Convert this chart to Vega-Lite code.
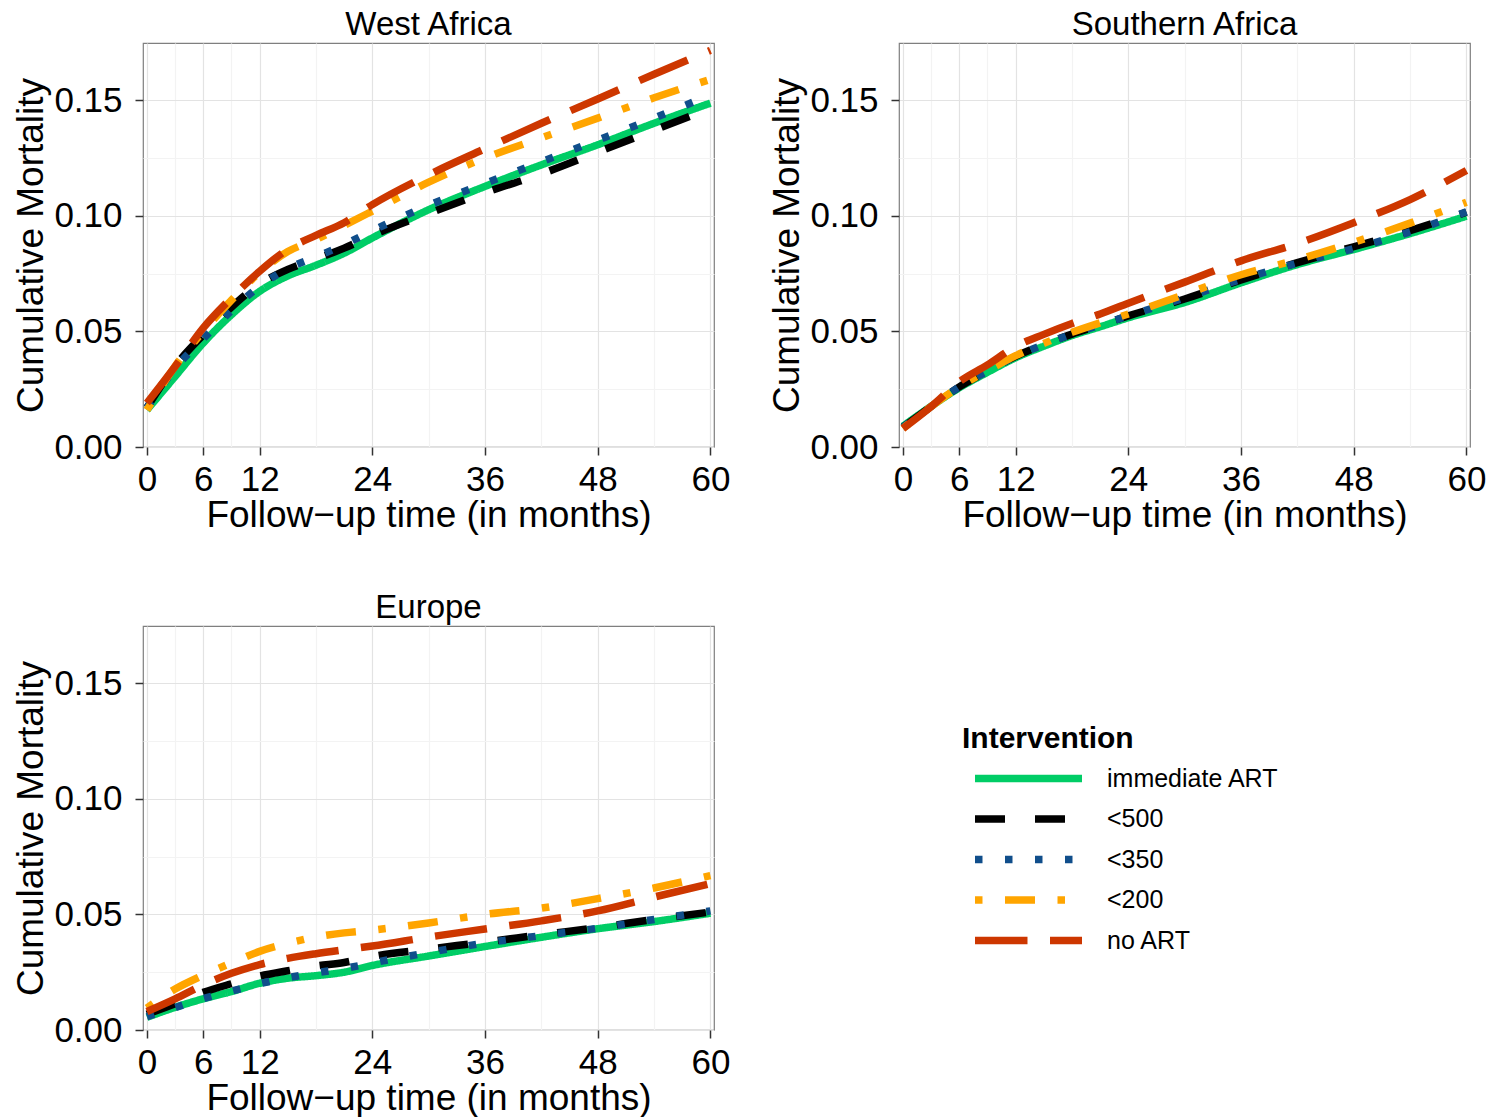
{
  "$schema": "https://vega.github.io/schema/vega-lite/v6.json",
  "background": "white",
  "padding": {"left": 12, "top": 8, "right": 10, "bottom": 0},
  "config": {
    "font": "Liberation Sans",
    "view": {"stroke": "#7F7F7F", "strokeWidth": 1.2},
    "axis": {
      "domain": false,
      "tickColor": "#333333",
      "tickSize": 8,
      "tickWidth": 1.5,
      "labelFontSize": 35,
      "labelColor": "black",
      "titleFontSize": 37,
      "titleFontWeight": "normal",
      "titleColor": "black",
      "labelFlush": false,
      "labelOverlap": false,
      "labelBound": false,
      "gridWidth": 1.2
    },
    "axisX": {"labelPadding": 7, "titlePadding": 0},
    "axisY": {"labelPadding": 13, "titlePadding": 3},
    "title": {"fontSize": 33, "fontWeight": "normal", "color": "black", "anchor": "middle", "frame": "group"},
    "legend": {
      "titleFontSize": 30,
      "titleFontWeight": "bold",
      "titleColor": "black",
      "labelFontSize": 25,
      "labelColor": "black",
      "labelLimit": 400,
      "symbolType": "stroke",
      "symbolSize": 11449,
      "symbolStrokeWidth": 7.5,
      "symbolOffset": 9,
      "labelOffset": 21,
      "clipHeight": 27,
      "rowPadding": 13.5,
      "titlePadding": 11
    }
  },
  "data": {"values": [
    {"region":"West Africa","intervention":"immediate ART","month":0,"mortality":0.016},
    {"region":"West Africa","intervention":"immediate ART","month":3,"mortality":0.0305},
    {"region":"West Africa","intervention":"immediate ART","month":6,"mortality":0.045},
    {"region":"West Africa","intervention":"immediate ART","month":9,"mortality":0.0572},
    {"region":"West Africa","intervention":"immediate ART","month":12,"mortality":0.0673},
    {"region":"West Africa","intervention":"immediate ART","month":15,"mortality":0.0740},
    {"region":"West Africa","intervention":"immediate ART","month":18,"mortality":0.0786},
    {"region":"West Africa","intervention":"immediate ART","month":21,"mortality":0.0838},
    {"region":"West Africa","intervention":"immediate ART","month":24,"mortality":0.0904},
    {"region":"West Africa","intervention":"immediate ART","month":30,"mortality":0.1026},
    {"region":"West Africa","intervention":"immediate ART","month":36,"mortality":0.1127},
    {"region":"West Africa","intervention":"immediate ART","month":42,"mortality":0.122},
    {"region":"West Africa","intervention":"immediate ART","month":48,"mortality":0.1307},
    {"region":"West Africa","intervention":"immediate ART","month":54,"mortality":0.140},
    {"region":"West Africa","intervention":"immediate ART","month":60,"mortality":0.1487},
    {"region":"West Africa","intervention":"<500","month":0,"mortality":0.017},
    {"region":"West Africa","intervention":"<500","month":3,"mortality":0.035},
    {"region":"West Africa","intervention":"<500","month":6,"mortality":0.0485},
    {"region":"West Africa","intervention":"<500","month":9,"mortality":0.0605},
    {"region":"West Africa","intervention":"<500","month":12,"mortality":0.0705},
    {"region":"West Africa","intervention":"<500","month":15,"mortality":0.0768},
    {"region":"West Africa","intervention":"<500","month":18,"mortality":0.0813},
    {"region":"West Africa","intervention":"<500","month":21,"mortality":0.086},
    {"region":"West Africa","intervention":"<500","month":24,"mortality":0.0915},
    {"region":"West Africa","intervention":"<500","month":30,"mortality":0.101},
    {"region":"West Africa","intervention":"<500","month":36,"mortality":0.110},
    {"region":"West Africa","intervention":"<500","month":42,"mortality":0.1181},
    {"region":"West Africa","intervention":"<500","month":48,"mortality":0.1275},
    {"region":"West Africa","intervention":"<500","month":54,"mortality":0.137},
    {"region":"West Africa","intervention":"<500","month":60,"mortality":0.1465},
    {"region":"West Africa","intervention":"<350","month":0,"mortality":0.017},
    {"region":"West Africa","intervention":"<350","month":3,"mortality":0.034},
    {"region":"West Africa","intervention":"<350","month":6,"mortality":0.0468},
    {"region":"West Africa","intervention":"<350","month":9,"mortality":0.059},
    {"region":"West Africa","intervention":"<350","month":12,"mortality":0.0695},
    {"region":"West Africa","intervention":"<350","month":15,"mortality":0.0772},
    {"region":"West Africa","intervention":"<350","month":18,"mortality":0.0822},
    {"region":"West Africa","intervention":"<350","month":21,"mortality":0.0875},
    {"region":"West Africa","intervention":"<350","month":24,"mortality":0.0935},
    {"region":"West Africa","intervention":"<350","month":30,"mortality":0.1045},
    {"region":"West Africa","intervention":"<350","month":36,"mortality":0.114},
    {"region":"West Africa","intervention":"<350","month":42,"mortality":0.1233},
    {"region":"West Africa","intervention":"<350","month":48,"mortality":0.1327},
    {"region":"West Africa","intervention":"<350","month":54,"mortality":0.1422},
    {"region":"West Africa","intervention":"<350","month":60,"mortality":0.1523},
    {"region":"West Africa","intervention":"<200","month":0,"mortality":0.016},
    {"region":"West Africa","intervention":"<200","month":3,"mortality":0.035},
    {"region":"West Africa","intervention":"<200","month":6,"mortality":0.050},
    {"region":"West Africa","intervention":"<200","month":9,"mortality":0.0635},
    {"region":"West Africa","intervention":"<200","month":12,"mortality":0.0755},
    {"region":"West Africa","intervention":"<200","month":15,"mortality":0.0845},
    {"region":"West Africa","intervention":"<200","month":18,"mortality":0.0897},
    {"region":"West Africa","intervention":"<200","month":21,"mortality":0.0958},
    {"region":"West Africa","intervention":"<200","month":24,"mortality":0.102},
    {"region":"West Africa","intervention":"<200","month":30,"mortality":0.1145},
    {"region":"West Africa","intervention":"<200","month":36,"mortality":0.125},
    {"region":"West Africa","intervention":"<200","month":42,"mortality":0.1337},
    {"region":"West Africa","intervention":"<200","month":48,"mortality":0.1422},
    {"region":"West Africa","intervention":"<200","month":54,"mortality":0.151},
    {"region":"West Africa","intervention":"<200","month":60,"mortality":0.159},
    {"region":"West Africa","intervention":"no ART","month":0,"mortality":0.019},
    {"region":"West Africa","intervention":"no ART","month":3,"mortality":0.0348},
    {"region":"West Africa","intervention":"no ART","month":6,"mortality":0.0515},
    {"region":"West Africa","intervention":"no ART","month":9,"mortality":0.0645},
    {"region":"West Africa","intervention":"no ART","month":12,"mortality":0.076},
    {"region":"West Africa","intervention":"no ART","month":15,"mortality":0.0855},
    {"region":"West Africa","intervention":"no ART","month":18,"mortality":0.0915},
    {"region":"West Africa","intervention":"no ART","month":21,"mortality":0.097},
    {"region":"West Africa","intervention":"no ART","month":24,"mortality":0.1048},
    {"region":"West Africa","intervention":"no ART","month":30,"mortality":0.1177},
    {"region":"West Africa","intervention":"no ART","month":36,"mortality":0.129},
    {"region":"West Africa","intervention":"no ART","month":42,"mortality":0.140},
    {"region":"West Africa","intervention":"no ART","month":48,"mortality":0.1505},
    {"region":"West Africa","intervention":"no ART","month":54,"mortality":0.1612},
    {"region":"West Africa","intervention":"no ART","month":60,"mortality":0.1715},

    {"region":"Southern Africa","intervention":"immediate ART","month":0,"mortality":0.009},
    {"region":"Southern Africa","intervention":"immediate ART","month":3,"mortality":0.0176},
    {"region":"Southern Africa","intervention":"immediate ART","month":6,"mortality":0.0256},
    {"region":"Southern Africa","intervention":"immediate ART","month":9,"mortality":0.0323},
    {"region":"Southern Africa","intervention":"immediate ART","month":12,"mortality":0.0386},
    {"region":"Southern Africa","intervention":"immediate ART","month":15,"mortality":0.0436},
    {"region":"Southern Africa","intervention":"immediate ART","month":18,"mortality":0.0482},
    {"region":"Southern Africa","intervention":"immediate ART","month":21,"mortality":0.052},
    {"region":"Southern Africa","intervention":"immediate ART","month":24,"mortality":0.0559},
    {"region":"Southern Africa","intervention":"immediate ART","month":30,"mortality":0.0625},
    {"region":"Southern Africa","intervention":"immediate ART","month":36,"mortality":0.071},
    {"region":"Southern Africa","intervention":"immediate ART","month":42,"mortality":0.0789},
    {"region":"Southern Africa","intervention":"immediate ART","month":48,"mortality":0.0854},
    {"region":"Southern Africa","intervention":"immediate ART","month":54,"mortality":0.0923},
    {"region":"Southern Africa","intervention":"immediate ART","month":60,"mortality":0.0998},
    {"region":"Southern Africa","intervention":"<500","month":0,"mortality":0.0085},
    {"region":"Southern Africa","intervention":"<500","month":3,"mortality":0.0175},
    {"region":"Southern Africa","intervention":"<500","month":6,"mortality":0.026},
    {"region":"Southern Africa","intervention":"<500","month":9,"mortality":0.0328},
    {"region":"Southern Africa","intervention":"<500","month":12,"mortality":0.0392},
    {"region":"Southern Africa","intervention":"<500","month":15,"mortality":0.0443},
    {"region":"Southern Africa","intervention":"<500","month":18,"mortality":0.0488},
    {"region":"Southern Africa","intervention":"<500","month":21,"mortality":0.0527},
    {"region":"Southern Africa","intervention":"<500","month":24,"mortality":0.0567},
    {"region":"Southern Africa","intervention":"<500","month":30,"mortality":0.064},
    {"region":"Southern Africa","intervention":"<500","month":36,"mortality":0.0722},
    {"region":"Southern Africa","intervention":"<500","month":42,"mortality":0.0797},
    {"region":"Southern Africa","intervention":"<500","month":48,"mortality":0.0866},
    {"region":"Southern Africa","intervention":"<500","month":54,"mortality":0.0936},
    {"region":"Southern Africa","intervention":"<500","month":60,"mortality":0.1015},
    {"region":"Southern Africa","intervention":"<350","month":0,"mortality":0.0085},
    {"region":"Southern Africa","intervention":"<350","month":3,"mortality":0.0175},
    {"region":"Southern Africa","intervention":"<350","month":6,"mortality":0.026},
    {"region":"Southern Africa","intervention":"<350","month":9,"mortality":0.0328},
    {"region":"Southern Africa","intervention":"<350","month":12,"mortality":0.0392},
    {"region":"Southern Africa","intervention":"<350","month":15,"mortality":0.0443},
    {"region":"Southern Africa","intervention":"<350","month":18,"mortality":0.0488},
    {"region":"Southern Africa","intervention":"<350","month":21,"mortality":0.0527},
    {"region":"Southern Africa","intervention":"<350","month":24,"mortality":0.0567},
    {"region":"Southern Africa","intervention":"<350","month":30,"mortality":0.0645},
    {"region":"Southern Africa","intervention":"<350","month":36,"mortality":0.0725},
    {"region":"Southern Africa","intervention":"<350","month":42,"mortality":0.0795},
    {"region":"Southern Africa","intervention":"<350","month":48,"mortality":0.0858},
    {"region":"Southern Africa","intervention":"<350","month":54,"mortality":0.093},
    {"region":"Southern Africa","intervention":"<350","month":60,"mortality":0.1017},
    {"region":"Southern Africa","intervention":"<200","month":0,"mortality":0.008},
    {"region":"Southern Africa","intervention":"<200","month":3,"mortality":0.0175},
    {"region":"Southern Africa","intervention":"<200","month":6,"mortality":0.026},
    {"region":"Southern Africa","intervention":"<200","month":9,"mortality":0.033},
    {"region":"Southern Africa","intervention":"<200","month":12,"mortality":0.0395},
    {"region":"Southern Africa","intervention":"<200","month":15,"mortality":0.0448},
    {"region":"Southern Africa","intervention":"<200","month":18,"mortality":0.0496},
    {"region":"Southern Africa","intervention":"<200","month":21,"mortality":0.0537},
    {"region":"Southern Africa","intervention":"<200","month":24,"mortality":0.0575},
    {"region":"Southern Africa","intervention":"<200","month":30,"mortality":0.066},
    {"region":"Southern Africa","intervention":"<200","month":36,"mortality":0.0745},
    {"region":"Southern Africa","intervention":"<200","month":42,"mortality":0.081},
    {"region":"Southern Africa","intervention":"<200","month":48,"mortality":0.0885},
    {"region":"Southern Africa","intervention":"<200","month":54,"mortality":0.0968},
    {"region":"Southern Africa","intervention":"<200","month":60,"mortality":0.1058},
    {"region":"Southern Africa","intervention":"no ART","month":0,"mortality":0.008},
    {"region":"Southern Africa","intervention":"no ART","month":3,"mortality":0.0175},
    {"region":"Southern Africa","intervention":"no ART","month":6,"mortality":0.0282},
    {"region":"Southern Africa","intervention":"no ART","month":9,"mortality":0.0355},
    {"region":"Southern Africa","intervention":"no ART","month":12,"mortality":0.0435},
    {"region":"Southern Africa","intervention":"no ART","month":15,"mortality":0.0487},
    {"region":"Southern Africa","intervention":"no ART","month":18,"mortality":0.0534},
    {"region":"Southern Africa","intervention":"no ART","month":21,"mortality":0.0575},
    {"region":"Southern Africa","intervention":"no ART","month":24,"mortality":0.0622},
    {"region":"Southern Africa","intervention":"no ART","month":30,"mortality":0.0713},
    {"region":"Southern Africa","intervention":"no ART","month":36,"mortality":0.0805},
    {"region":"Southern Africa","intervention":"no ART","month":42,"mortality":0.088},
    {"region":"Southern Africa","intervention":"no ART","month":48,"mortality":0.097},
    {"region":"Southern Africa","intervention":"no ART","month":54,"mortality":0.107},
    {"region":"Southern Africa","intervention":"no ART","month":60,"mortality":0.1196},

    {"region":"Europe","intervention":"immediate ART","month":0,"mortality":0.0055},
    {"region":"Europe","intervention":"immediate ART","month":3,"mortality":0.0098},
    {"region":"Europe","intervention":"immediate ART","month":6,"mortality":0.0135},
    {"region":"Europe","intervention":"immediate ART","month":9,"mortality":0.0166},
    {"region":"Europe","intervention":"immediate ART","month":12,"mortality":0.0202},
    {"region":"Europe","intervention":"immediate ART","month":15,"mortality":0.0224},
    {"region":"Europe","intervention":"immediate ART","month":18,"mortality":0.0235},
    {"region":"Europe","intervention":"immediate ART","month":21,"mortality":0.025},
    {"region":"Europe","intervention":"immediate ART","month":24,"mortality":0.0279},
    {"region":"Europe","intervention":"immediate ART","month":30,"mortality":0.032},
    {"region":"Europe","intervention":"immediate ART","month":36,"mortality":0.0361},
    {"region":"Europe","intervention":"immediate ART","month":42,"mortality":0.0401},
    {"region":"Europe","intervention":"immediate ART","month":48,"mortality":0.0438},
    {"region":"Europe","intervention":"immediate ART","month":54,"mortality":0.0469},
    {"region":"Europe","intervention":"immediate ART","month":60,"mortality":0.0505},
    {"region":"Europe","intervention":"<500","month":0,"mortality":0.0068},
    {"region":"Europe","intervention":"<500","month":3,"mortality":0.0113},
    {"region":"Europe","intervention":"<500","month":6,"mortality":0.0163},
    {"region":"Europe","intervention":"<500","month":9,"mortality":0.020},
    {"region":"Europe","intervention":"<500","month":12,"mortality":0.0233},
    {"region":"Europe","intervention":"<500","month":15,"mortality":0.0256},
    {"region":"Europe","intervention":"<500","month":18,"mortality":0.0277},
    {"region":"Europe","intervention":"<500","month":21,"mortality":0.0292},
    {"region":"Europe","intervention":"<500","month":24,"mortality":0.0318},
    {"region":"Europe","intervention":"<500","month":30,"mortality":0.035},
    {"region":"Europe","intervention":"<500","month":36,"mortality":0.038},
    {"region":"Europe","intervention":"<500","month":42,"mortality":0.0412},
    {"region":"Europe","intervention":"<500","month":48,"mortality":0.0443},
    {"region":"Europe","intervention":"<500","month":54,"mortality":0.0478},
    {"region":"Europe","intervention":"<500","month":60,"mortality":0.051},
    {"region":"Europe","intervention":"<350","month":0,"mortality":0.0058},
    {"region":"Europe","intervention":"<350","month":3,"mortality":0.0097},
    {"region":"Europe","intervention":"<350","month":6,"mortality":0.0136},
    {"region":"Europe","intervention":"<350","month":9,"mortality":0.0168},
    {"region":"Europe","intervention":"<350","month":12,"mortality":0.020},
    {"region":"Europe","intervention":"<350","month":15,"mortality":0.0226},
    {"region":"Europe","intervention":"<350","month":18,"mortality":0.0247},
    {"region":"Europe","intervention":"<350","month":21,"mortality":0.0266},
    {"region":"Europe","intervention":"<350","month":24,"mortality":0.029},
    {"region":"Europe","intervention":"<350","month":30,"mortality":0.0335},
    {"region":"Europe","intervention":"<350","month":36,"mortality":0.0376},
    {"region":"Europe","intervention":"<350","month":42,"mortality":0.0408},
    {"region":"Europe","intervention":"<350","month":48,"mortality":0.044},
    {"region":"Europe","intervention":"<350","month":54,"mortality":0.0478},
    {"region":"Europe","intervention":"<350","month":60,"mortality":0.0515},
    {"region":"Europe","intervention":"<200","month":0,"mortality":0.0095},
    {"region":"Europe","intervention":"<200","month":3,"mortality":0.0177},
    {"region":"Europe","intervention":"<200","month":6,"mortality":0.0237},
    {"region":"Europe","intervention":"<200","month":9,"mortality":0.029},
    {"region":"Europe","intervention":"<200","month":12,"mortality":0.034},
    {"region":"Europe","intervention":"<200","month":15,"mortality":0.0375},
    {"region":"Europe","intervention":"<200","month":18,"mortality":0.0402},
    {"region":"Europe","intervention":"<200","month":21,"mortality":0.042},
    {"region":"Europe","intervention":"<200","month":24,"mortality":0.0432},
    {"region":"Europe","intervention":"<200","month":30,"mortality":0.0463},
    {"region":"Europe","intervention":"<200","month":36,"mortality":0.050},
    {"region":"Europe","intervention":"<200","month":42,"mortality":0.0527},
    {"region":"Europe","intervention":"<200","month":48,"mortality":0.0568},
    {"region":"Europe","intervention":"<200","month":54,"mortality":0.0614},
    {"region":"Europe","intervention":"<200","month":60,"mortality":0.0668},
    {"region":"Europe","intervention":"no ART","month":0,"mortality":0.008},
    {"region":"Europe","intervention":"no ART","month":3,"mortality":0.0135},
    {"region":"Europe","intervention":"no ART","month":6,"mortality":0.0195},
    {"region":"Europe","intervention":"no ART","month":9,"mortality":0.0245},
    {"region":"Europe","intervention":"no ART","month":12,"mortality":0.0283},
    {"region":"Europe","intervention":"no ART","month":15,"mortality":0.031},
    {"region":"Europe","intervention":"no ART","month":18,"mortality":0.033},
    {"region":"Europe","intervention":"no ART","month":21,"mortality":0.0347},
    {"region":"Europe","intervention":"no ART","month":24,"mortality":0.0363},
    {"region":"Europe","intervention":"no ART","month":30,"mortality":0.0402},
    {"region":"Europe","intervention":"no ART","month":36,"mortality":0.0437},
    {"region":"Europe","intervention":"no ART","month":42,"mortality":0.0472},
    {"region":"Europe","intervention":"no ART","month":48,"mortality":0.0515},
    {"region":"Europe","intervention":"no ART","month":54,"mortality":0.0575},
    {"region":"Europe","intervention":"no ART","month":60,"mortality":0.0633}
  ]},
  "columns": 2,
  "bounds": "flush",
  "spacing": {"row": 179, "column": 185},
  "resolve": {"scale": {"color": "shared", "strokeDash": "shared"}},
  "concat": [
    {
      "title": {"text": "West Africa", "offset": -7},
      "width": 571, "height": 404,
      "transform": [{"filter": "datum.region === 'West Africa'"}],
      "mark": {"type": "line", "strokeWidth": 7.5, "strokeCap": "butt", "interpolate": "monotone"},
      "encoding": {
        "x": {"field": "month", "type": "quantitative", "scale": {"domain": [-0.42, 60.38], "nice": false, "zero": false},
          "axis": {"title": "Follow−up time (in months)", "values": [0,3,6,9,12,18,24,30,36,42,48,54,60],
            "labelExpr": "indexof([0,6,12,24,36,48,60], datum.value) >= 0 ? datum.label : ''",
            "gridColor": {"condition": {"test": "indexof([0,6,12,24,36,48,60], datum.value) < 0", "value": "#F3F3F3"}, "value": "#E3E3E3"},
            "tickOpacity": {"condition": {"test": "indexof([0,6,12,24,36,48,60], datum.value) < 0", "value": 0}, "value": 1}}},
        "y": {"field": "mortality", "type": "quantitative", "scale": {"domain": [0, 0.1747], "nice": false},
          "axis": {"title": "Cumulative Mortality", "values": [0,0.025,0.05,0.075,0.1,0.125,0.15], "format": ".2f",
            "labelExpr": "round(datum.value*1000) % 50 == 0 ? datum.label : ''",
            "gridColor": {"condition": {"test": "round(datum.value*1000) % 50 != 0", "value": "#F3F3F3"}, "value": "#E3E3E3"},
            "tickOpacity": {"condition": {"test": "round(datum.value*1000) % 50 != 0", "value": 0}, "value": 1}}},
        "color": {"field": "intervention", "type": "nominal",
          "scale": {"domain": ["immediate ART","<500","<350","<200","no ART"], "range": ["#00CD66","#000000","#104E8B","#FFA500","#CD3700"]},
          "legend": {"title": "Intervention", "orient": "none", "legendX": 819, "legendY": 681}},
        "strokeDash": {"field": "intervention", "type": "nominal",
          "scale": {"domain": ["immediate ART","<500","<350","<200","no ART"], "range": [[1,0],[30,30],[7.5,22.5],[7.5,22.5,30,22.5],[52.5,22.5]]},
          "legend": {"title": "Intervention", "orient": "none", "legendX": 819, "legendY": 681}}
      }
    },
    {
      "title": {"text": "Southern Africa", "offset": 1},
      "width": 571, "height": 404,
      "transform": [{"filter": "datum.region === 'Southern Africa'"}],
      "mark": {"type": "line", "strokeWidth": 7.5, "strokeCap": "butt", "interpolate": "monotone"},
      "encoding": {
        "x": {"field": "month", "type": "quantitative", "scale": {"domain": [-0.42, 60.38], "nice": false, "zero": false},
          "axis": {"title": "Follow−up time (in months)", "values": [0,3,6,9,12,18,24,30,36,42,48,54,60],
            "labelExpr": "indexof([0,6,12,24,36,48,60], datum.value) >= 0 ? datum.label : ''",
            "gridColor": {"condition": {"test": "indexof([0,6,12,24,36,48,60], datum.value) < 0", "value": "#F3F3F3"}, "value": "#E3E3E3"},
            "tickOpacity": {"condition": {"test": "indexof([0,6,12,24,36,48,60], datum.value) < 0", "value": 0}, "value": 1}}},
        "y": {"field": "mortality", "type": "quantitative", "scale": {"domain": [0, 0.1747], "nice": false},
          "axis": {"title": "Cumulative Mortality", "values": [0,0.025,0.05,0.075,0.1,0.125,0.15], "format": ".2f",
            "labelExpr": "round(datum.value*1000) % 50 == 0 ? datum.label : ''",
            "gridColor": {"condition": {"test": "round(datum.value*1000) % 50 != 0", "value": "#F3F3F3"}, "value": "#E3E3E3"},
            "tickOpacity": {"condition": {"test": "round(datum.value*1000) % 50 != 0", "value": 0}, "value": 1}}},
        "color": {"field": "intervention", "type": "nominal",
          "scale": {"domain": ["immediate ART","<500","<350","<200","no ART"], "range": ["#00CD66","#000000","#104E8B","#FFA500","#CD3700"]},
          "legend": {"title": "Intervention", "orient": "none", "legendX": 819, "legendY": 681}},
        "strokeDash": {"field": "intervention", "type": "nominal",
          "scale": {"domain": ["immediate ART","<500","<350","<200","no ART"], "range": [[1,0],[30,30],[7.5,22.5],[7.5,22.5,30,22.5],[52.5,22.5]]},
          "legend": {"title": "Intervention", "orient": "none", "legendX": 819, "legendY": 681}}
      }
    },
    {
      "title": {"text": "Europe", "offset": 1},
      "width": 571, "height": 404,
      "transform": [{"filter": "datum.region === 'Europe'"}],
      "mark": {"type": "line", "strokeWidth": 7.5, "strokeCap": "butt", "interpolate": "monotone"},
      "encoding": {
        "x": {"field": "month", "type": "quantitative", "scale": {"domain": [-0.42, 60.38], "nice": false, "zero": false},
          "axis": {"title": "Follow−up time (in months)", "values": [0,3,6,9,12,18,24,30,36,42,48,54,60],
            "labelExpr": "indexof([0,6,12,24,36,48,60], datum.value) >= 0 ? datum.label : ''",
            "gridColor": {"condition": {"test": "indexof([0,6,12,24,36,48,60], datum.value) < 0", "value": "#F3F3F3"}, "value": "#E3E3E3"},
            "tickOpacity": {"condition": {"test": "indexof([0,6,12,24,36,48,60], datum.value) < 0", "value": 0}, "value": 1}}},
        "y": {"field": "mortality", "type": "quantitative", "scale": {"domain": [0, 0.1747], "nice": false},
          "axis": {"title": "Cumulative Mortality", "values": [0,0.025,0.05,0.075,0.1,0.125,0.15], "format": ".2f",
            "labelExpr": "round(datum.value*1000) % 50 == 0 ? datum.label : ''",
            "gridColor": {"condition": {"test": "round(datum.value*1000) % 50 != 0", "value": "#F3F3F3"}, "value": "#E3E3E3"},
            "tickOpacity": {"condition": {"test": "round(datum.value*1000) % 50 != 0", "value": 0}, "value": 1}}},
        "color": {"field": "intervention", "type": "nominal",
          "scale": {"domain": ["immediate ART","<500","<350","<200","no ART"], "range": ["#00CD66","#000000","#104E8B","#FFA500","#CD3700"]},
          "legend": {"title": "Intervention", "orient": "none", "legendX": 819, "legendY": 681}},
        "strokeDash": {"field": "intervention", "type": "nominal",
          "scale": {"domain": ["immediate ART","<500","<350","<200","no ART"], "range": [[1,0],[30,30],[7.5,22.5],[7.5,22.5,30,22.5],[52.5,22.5]]},
          "legend": {"title": "Intervention", "orient": "none", "legendX": 819, "legendY": 681}}
      }
    }
  ]
}
